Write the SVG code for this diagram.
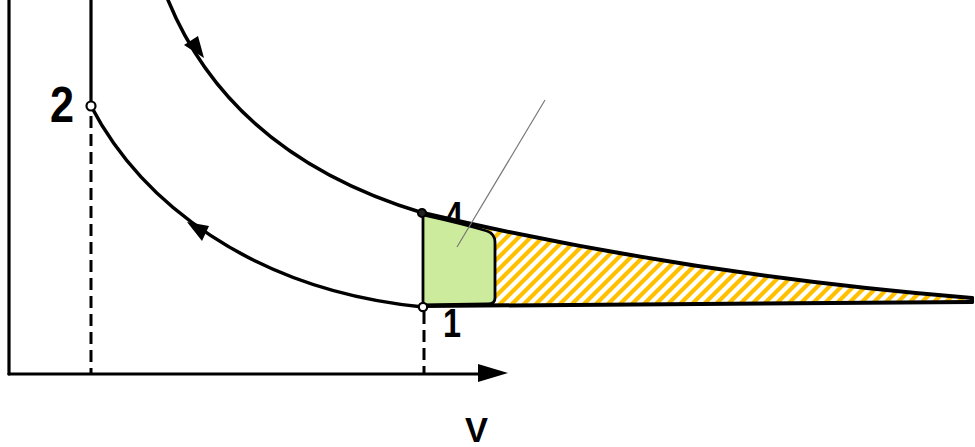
<svg xmlns="http://www.w3.org/2000/svg" width="975" height="447" viewBox="0 0 975 447">
<style>
.ln{fill:none;stroke:#000;stroke-linecap:round;stroke-linejoin:round}
.dash{fill:none;stroke:#000;stroke-width:3;stroke-dasharray:12 6}
.lbl{font-family:"Liberation Sans",Arial,sans-serif;font-weight:bold;fill:#000}
.pt{fill:#fff;stroke:#000;stroke-width:2.2}
</style>
<defs>
<pattern id="hatch" patternUnits="userSpaceOnUse" width="12" height="12">
<path d="M-3,3 L3,-3 M0,12 L12,0 M9,15 L15,9" stroke="#FFC000" stroke-width="4.2"/>
</pattern>
</defs>
<rect width="975" height="447" fill="#fff"/>
<g id="axes">
<line class="ln" x1="9" y1="0" x2="9" y2="374" stroke-width="3.2"/>
<line class="ln" x1="9" y1="374" x2="482" y2="374" stroke-width="3.2"/>
<polygon points="478,364 508,373 478,382" fill="#000"/>
</g>
<g id="labels">
<text class="lbl" x="50" y="122" font-size="50" textLength="24" lengthAdjust="spacingAndGlyphs">2</text>
<text class="lbl" x="445" y="230" font-size="40" textLength="18" lengthAdjust="spacingAndGlyphs">4</text>
<text class="lbl" x="443" y="337" font-size="40" textLength="18" lengthAdjust="spacingAndGlyphs">1</text>
<text class="lbl" x="465" y="442" font-size="35" textLength="23" lengthAdjust="spacingAndGlyphs">V</text>
</g>
<g id="hatched-area">
<path d="M423,213 C560,245 750,280 972,298 L972,302 L423,306 Z" fill="url(#hatch)"/>
</g>
<g id="green-area">
<path d="M423,215 C450,221 470,226 487,231 Q495,234 495,242 L495,298 Q495,304 488,304 L423,305 Z" fill="#cdeb9c" stroke="#000" stroke-width="2.8" stroke-linejoin="round"/>
</g>
<g id="connectors">
<line class="ln" x1="91" y1="0" x2="91" y2="102" stroke-width="3.2"/>
<line class="dash" x1="91" y1="116" x2="91" y2="374"/>
<line class="dash" x1="424" y1="312" x2="424" y2="374" stroke-width="2"/>
<path class="ln" d="M168,0 C205,90 280,170 423,213" stroke-width="3.5"/>
<path class="ln" d="M91,106 C140,200 250,290 423,307" stroke-width="3.5"/>
<path class="ln" d="M423,213 C560,245 750,280 972,298" stroke-width="4"/>
<path class="ln" d="M423,306 L972,302" stroke-width="4"/>
<line class="ln" x1="972" y1="298" x2="972" y2="302" stroke-width="4"/>
<polygon points="204,58 184,45 198,36" fill="#000"/>
<polygon points="187,222 209,226 202,241" fill="#000"/>
<line x1="545" y1="100" x2="457" y2="247" stroke="#777" stroke-width="1.2"/>
</g>
<g id="point-2"><circle class="pt" cx="91" cy="106" r="4.5"/></g>
<g id="point-4"><circle class="pt" cx="422" cy="213" r="4" style="fill:#222"/></g>
<g id="point-1"><circle class="pt" cx="423" cy="307" r="4.2"/></g>
</svg>
